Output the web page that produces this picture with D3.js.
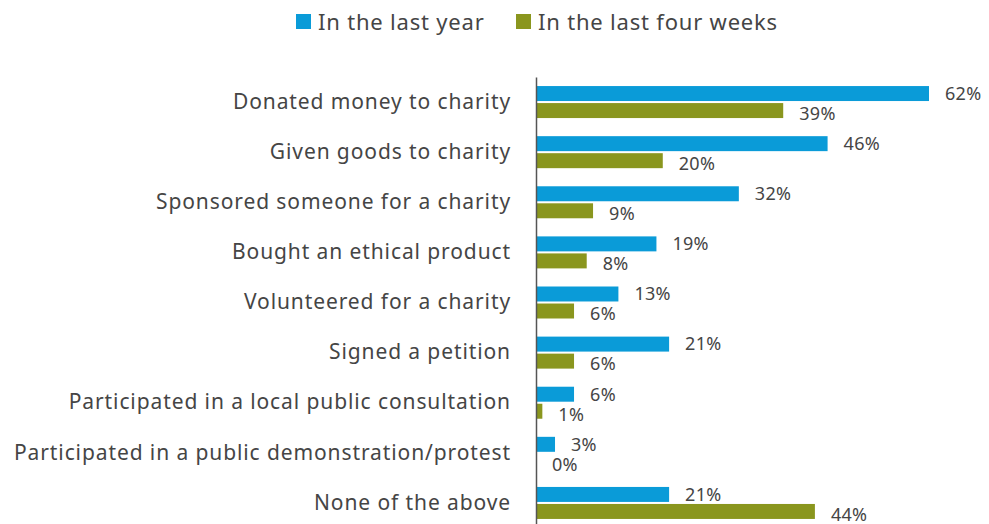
<!DOCTYPE html>
<html>
<head>
<meta charset="utf-8">
<script src="https://cdn.jsdelivr.net/npm/d3@7"></script>
<style>
  html, body { margin: 0; padding: 0; background: #fff; }
  svg { display: block; font-family: "Noto Sans", sans-serif; }
</style>
</head>
<body>
<svg id="chart" width="989" height="524"></svg>
<script>
const categories = [
  "Donated money to charity",
  "Given goods to charity",
  "Sponsored someone for a charity",
  "Bought an ethical product",
  "Volunteered for a charity",
  "Signed a petition",
  "Participated in a local public consultation",
  "Participated in a public demonstration/protest",
  "None of the above"
];
const lastYear = [62, 46, 32, 19, 13, 21, 6, 3, 21];
const lastFourWeeks = [39, 20, 9, 8, 6, 6, 1, 0, 44];
const seriesNames = ["In the last year", "In the last four weeks"];
const seriesColors = ["#0a9bd8", "#8a961e"];

const svg = d3.select("#chart");
const textColor = "#454545";

const x = d3.scaleLinear().domain([0, 62]).range([536, 929]);
const y = d3.scaleBand().domain(categories).range([77, 528]).paddingInner(0).paddingOuter(0);
const sub = d3.scaleBand().domain([0, 1]).range([y.bandwidth() / 2 - 16, y.bandwidth() / 2 + 16]).paddingInner(0.12);

const series = [lastYear, lastFourWeeks];

const groups = svg.append("g").selectAll("g")
  .data(categories)
  .join("g")
  .attr("transform", d => `translate(0,${y(d)})`);

series.forEach((vals, si) => {
  groups.append("rect")
    .attr("x", x(0))
    .attr("y", sub(si))
    .attr("width", (d, i) => x(vals[i]) - x(0))
    .attr("height", sub.bandwidth())
    .attr("fill", seriesColors[si]);
  groups.append("text")
    .attr("x", (d, i) => x(vals[i]) + 16)
    .attr("y", sub(si) + sub.bandwidth() / 2 + (si === 0 ? 0 : 3))
    .attr("dy", "0.35em")
    .attr("font-size", 18)
    .attr("letter-spacing", 0.3)
    .attr("fill", textColor)
    .text((d, i) => vals[i] + "%");
});

// category axis on the left
const yAxis = d3.axisLeft(y).tickSize(0).tickPadding(25);
const ax = svg.append("g").attr("transform", `translate(${x(0)},0)`).call(yAxis);
ax.select(".domain").attr("stroke", "#555").attr("stroke-width", 1.5);
ax.selectAll("text").attr("font-size", 21).attr("fill", textColor)
  .attr("letter-spacing", 0.9)
  .attr("font-family", "\"Noto Sans\", sans-serif");

// legend
const legend = svg.append("g");
const legendX = [296, 516];
seriesNames.forEach((name, i) => {
  legend.append("rect").attr("x", legendX[i]).attr("y", 14).attr("width", 15).attr("height", 15)
    .attr("fill", seriesColors[i]);
  legend.append("text").attr("x", legendX[i] + 22).attr("y", 22).attr("dy", "0.35em")
    .attr("font-size", 22).attr("letter-spacing", 0.8).attr("fill", textColor).text(name);
});
</script>
</body>
</html>
